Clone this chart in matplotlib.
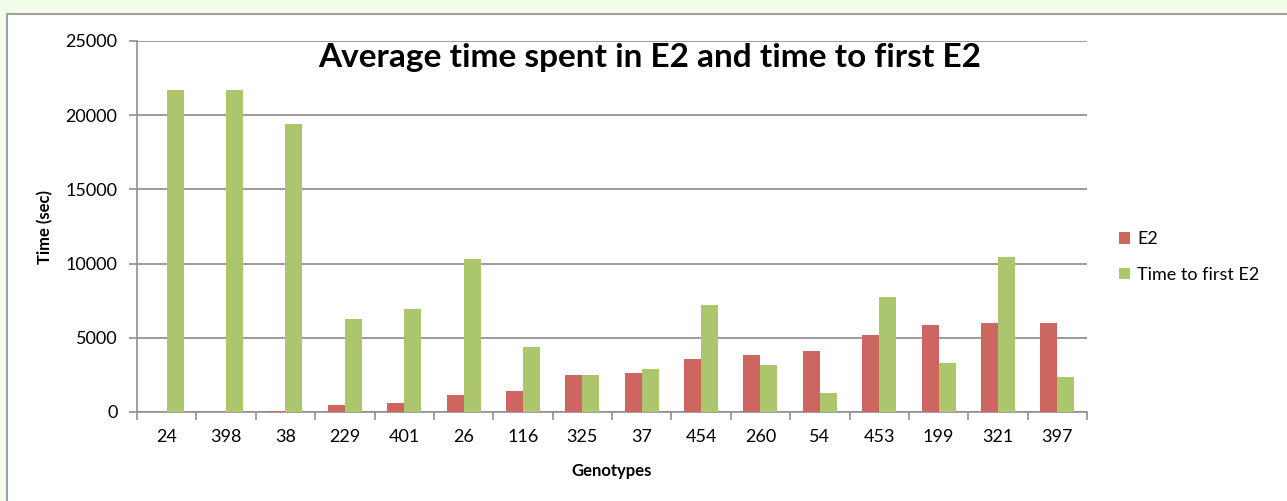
import matplotlib
matplotlib.use("Agg")
import matplotlib.pyplot as plt
import numpy as np
from matplotlib.patches import Rectangle

genotypes = ["24", "398", "38", "229", "401", "26", "116", "325", "37", "454",
             "260", "54", "453", "199", "321", "397"]
e2 = [0, 0, 50, 470, 600, 1150, 1430, 2490, 2650, 3590, 3860, 4130, 5210, 5880, 6020, 6020]
first_e2 = [21700, 21700, 19400, 6270, 6940, 10310, 4380, 2490, 2900, 7210, 3170, 1280,
            7750, 3300, 10440, 2360]
yticks = [0, 5000, 10000, 15000, 20000, 25000]

plt.rcParams['font.family'] = ['Lato', 'DejaVu Sans']

W, H = 1287, 501
fig = plt.figure(figsize=(W / 100, H / 100), dpi=100)
fig.patch.set_facecolor('#f2fdec')
fig.patches.append(Rectangle((7 / W, -0.05), 1.0, (H - 14) / H + 0.05, transform=fig.transFigure,
                             facecolor='white', edgecolor='#a0a0a0', linewidth=1.5, zorder=-5))

ax = fig.add_axes([137 / W, (H - 412) / H, (1087 - 137) / W, (412 - 41) / H])
ax.set_zorder(2)
ax.set_facecolor('none')
x = np.arange(len(genotypes))
bw = 1 / 3.5
red = '#cd6561'
green = '#abc66d'
ax.bar(x - bw / 2, e2, bw, color=red, label='E2', zorder=3)
ax.bar(x + bw / 2, first_e2, bw, color=green, label='Time to first E2', zorder=3)

ax.set_xlim(-0.5, len(genotypes) - 0.5)
ax.set_ylim(0, 25000)
ax.set_yticks(yticks)
ax.set_yticklabels([str(v) for v in yticks], fontsize=13)
ax.set_xticks(x)
ax.set_xticklabels(genotypes, fontsize=13)
ax.set_xticks(np.arange(-0.5, len(genotypes)), minor=True)
ax.tick_params(axis='x', which='major', length=0, pad=12)
ax.tick_params(axis='x', which='minor', length=6, width=1.2, color='#909090', direction='out')
ax.tick_params(axis='y', length=6, width=1.2, color='#909090', direction='out', pad=8)
ax.grid(axis='y', color='#8a8a8a', linewidth=1.2, zorder=1)
for s in ['top', 'right']:
    ax.spines[s].set_visible(False)
for s in ['left', 'bottom']:
    ax.spines[s].set_color('#909090')
    ax.spines[s].set_linewidth(1.2)

ax.set_xlabel('Genotypes', fontsize=12, fontweight='bold', labelpad=13)
ax.set_ylabel('Time (sec)', fontsize=12, fontweight='bold', labelpad=9)
fig.text(650 / W, 1 - 58 / H, 'Average time spent in E2 and time to first E2',
         fontsize=24, fontweight='bold', ha='center', va='center', zorder=5)

leg = fig.legend(loc='upper left', bbox_to_anchor=(1112 / W, 1 - 224 / H), frameon=False,
                 fontsize=13, handlelength=0.6, handleheight=0.6, labelspacing=1.1,
                 handletextpad=0.4, borderaxespad=0)

fig.savefig('out.png', dpi=100)
